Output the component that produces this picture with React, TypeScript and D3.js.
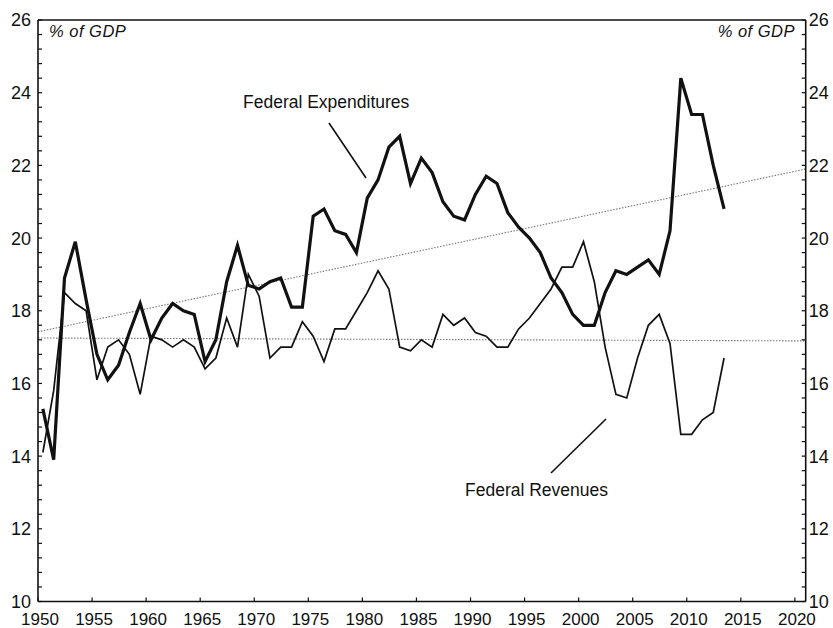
import React from "react";
import * as d3 from "d3";

const years: number[] = d3.range(1950, 2014);
const expenditures: number[] = [
  15.3, 13.9, 18.9, 19.9, 18.3, 16.8, 16.1, 16.5, 17.4, 18.2,
  17.2, 17.8, 18.2, 18.0, 17.9, 16.6, 17.2, 18.8, 19.8, 18.7,
  18.6, 18.8, 18.9, 18.1, 18.1, 20.6, 20.8, 20.2, 20.1, 19.6,
  21.1, 21.6, 22.5, 22.8, 21.5, 22.2, 21.8, 21.0, 20.6, 20.5,
  21.2, 21.7, 21.5, 20.7, 20.3, 20.0, 19.6, 18.9, 18.5, 17.9,
  17.6, 17.6, 18.5, 19.1, 19.0, 19.2, 19.4, 19.0, 20.2, 24.4,
  23.4, 23.4, 22.0, 20.8,
];
const revenues: number[] = [
  14.1, 15.8, 18.5, 18.2, 18.0, 16.1, 17.0, 17.2, 16.8, 15.7,
  17.3, 17.2, 17.0, 17.2, 17.0, 16.4, 16.7, 17.8, 17.0, 19.0,
  18.4, 16.7, 17.0, 17.0, 17.7, 17.3, 16.6, 17.5, 17.5, 18.0,
  18.5, 19.1, 18.6, 17.0, 16.9, 17.2, 17.0, 17.9, 17.6, 17.8,
  17.4, 17.3, 17.0, 17.0, 17.5, 17.8, 18.2, 18.6, 19.2, 19.2,
  19.9, 18.8, 17.0, 15.7, 15.6, 16.7, 17.6, 17.9, 17.1, 14.6,
  14.6, 15.0, 15.2, 16.7,
];
// trend lines: [startYear, startValue, endYear, endValue]
const expTrend: number[] = [1950, 17.42, 2021, 21.9];
const revTrend: number[] = [1950, 17.25, 2021, 17.17];
const xTickLabels: number[] = d3.range(1950, 2021, 5);
const yTickLabels: number[] = d3.range(10, 27, 2);
const yMinorTicks: number[] = d3.range(10, 26.01, 0.4);
// fiscal-year values are drawn at mid-year
const yearOffset = 0.45;

const W = 833;
const H = 628;
const left = 38;
const right = 805.7;
const top = 20;
const bottom = 601.5;
const font = "'Liberation Sans', Arial, Helvetica, sans-serif";

export default function App() {
  const x = d3.scaleLinear().domain([1950, 2021]).range([left, right]);
  const y = d3.scaleLinear().domain([10, 26]).range([bottom, top]);
  const line = d3
    .line<[number, number]>()
    .x((d) => x(d[0]))
    .y((d) => y(d[1]));
  const expPts = years.map((yr, i) => [yr + yearOffset, expenditures[i]] as [number, number]);
  const revPts = years.map((yr, i) => [yr + yearOffset, revenues[i]] as [number, number]);
  const expT: [number, number][] = [
    [expTrend[0], expTrend[1]],
    [expTrend[2], expTrend[3]],
  ];
  const revT: [number, number][] = [
    [revTrend[0], revTrend[1]],
    [revTrend[2], revTrend[3]],
  ];

  return (
    <svg
      width={W}
      height={H}
      style={{ position: "absolute", left: 0, top: 0, background: "#fff" }}
      fontFamily={font}
    >
      <rect x={0} y={0} width={W} height={H} fill="#fff" />
      {/* trend lines */}
      <path d={line(expT) || ""} fill="none" stroke="#777" strokeWidth={1.1} strokeDasharray="1.5,1.5" />
      <path d={line(revT) || ""} fill="none" stroke="#777" strokeWidth={1.1} strokeDasharray="1.5,1.5" />
      {/* series */}
      <path d={line(revPts) || ""} fill="none" stroke="#111" strokeWidth={1.7} strokeLinejoin="miter" />
      <path d={line(expPts) || ""} fill="none" stroke="#111" strokeWidth={3.2} strokeLinejoin="miter" />

      {/* frame */}
      <line x1={left} x2={right} y1={top} y2={top} stroke="#111" strokeWidth={1.6} />
      <line x1={left} x2={right} y1={bottom} y2={bottom} stroke="#111" strokeWidth={1.6} />
      <line x1={left} x2={left} y1={top} y2={bottom} stroke="#111" strokeWidth={1.6} />
      <line x1={right} x2={right} y1={top} y2={bottom} stroke="#111" strokeWidth={1.6} />

      {/* y minor ticks */}
      {yMinorTicks.map((v, i) => (
        <g key={"yt" + i}>
          <line x1={left} x2={left + 4} y1={y(v)} y2={y(v)} stroke="#111" strokeWidth={1.2} />
          <line x1={right} x2={right - 4} y1={y(v)} y2={y(v)} stroke="#111" strokeWidth={1.2} />
        </g>
      ))}
      {/* x ticks */}
      {xTickLabels.map((v) => (
        <line key={"xt" + v} x1={x(v)} x2={x(v)} y1={bottom} y2={bottom - 4} stroke="#111" strokeWidth={1.2} />
      ))}

      {/* y labels */}
      {yTickLabels.map((v) => (
        <g key={"yl" + v}>
          <text x={left - 7} y={y(v)} dy="0.36em" textAnchor="end" fontSize={18} fill="#111">
            {v}
          </text>
          <text x={right + 3} y={y(v)} dy="0.36em" textAnchor="start" fontSize={18} fill="#111">
            {v}
          </text>
        </g>
      ))}
      {/* x labels */}
      {xTickLabels.map((v) => (
        <text key={"xl" + v} x={x(v) + 2} y={625} textAnchor="middle" fontSize={17} fill="#111">
          {v}
        </text>
      ))}

      {/* unit labels */}
      <text x={49} y={37} fontSize={16.5} fontStyle="italic" letterSpacing={0.5} fill="#111">
        % of GDP
      </text>
      <text x={795} y={37} fontSize={16.5} fontStyle="italic" letterSpacing={0.5} textAnchor="end" fill="#111">
        % of GDP
      </text>

      {/* annotations */}
      <text x={243} y={108} fontSize={17.5} fill="#111">
        Federal Expenditures
      </text>
      <line x1={329} y1={123} x2={366} y2={178} stroke="#111" strokeWidth={1.6} />
      <text x={465} y={496} fontSize={17.5} fill="#111">
        Federal Revenues
      </text>
      <line x1={551} y1={473} x2={606} y2={419} stroke="#111" strokeWidth={1.6} />
    </svg>
  );
}
